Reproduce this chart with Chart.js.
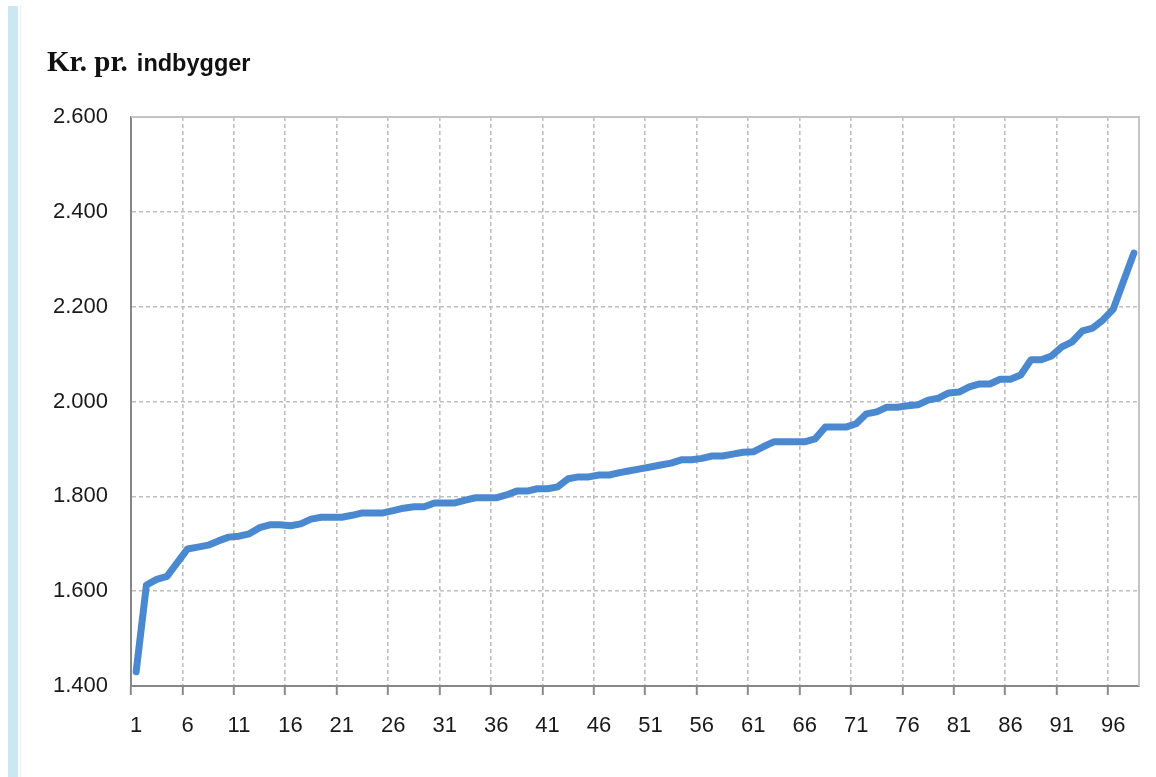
<!DOCTYPE html>
<html>
<head>
<meta charset="utf-8">
<script src="https://cdn.jsdelivr.net/npm/chart.js@4"></script>
<style>
  html, body { margin: 0; padding: 0; background: #fff; }
  #wrap { position: relative; width: 1156px; height: 777px; overflow: hidden; }
  #bar { position: absolute; left: 8px; top: 6px; width: 10px; height: 771px; background: #cbe7f0; }
  #bar2 { position: absolute; left: 20px; top: 6px; width: 1px; height: 771px; background: #e6f3f7; }
  #title { position: absolute; left: 47px; top: 45px; line-height: 29px; white-space: nowrap; color: #111; z-index: 2; }
  #title .a { font: bold 29px "Liberation Serif", "Times New Roman", serif; }
  #title .b { font: bold 23.5px "Liberation Sans", Arial, sans-serif; margin-left: 9px; }
  canvas { position: absolute; left: 0; top: 0; }
</style>
</head>
<body>
<div id="wrap">
  <div id="bar"></div>
  <div id="bar2"></div>
  <div id="title"><span class="a">Kr. pr.</span><span class="b">indbygger</span></div>
  <canvas id="chart" width="1156" height="777"></canvas>
</div>
<script>
// kommuner sorteret efter udgift, 1..98
const labels = [];
for (let i = 1; i <= 98; i++) labels.push(String(i));

const values = [
  1430, 1613, 1625, 1631, 1660, 1689, 1693, 1697, 1706, 1714,
  1716, 1721, 1734, 1740, 1740, 1738, 1742, 1752, 1756, 1756,
  1756, 1760, 1765, 1765, 1765, 1770, 1775, 1778, 1778, 1786,
  1786, 1786, 1792, 1797, 1797, 1797, 1803, 1811, 1811, 1816,
  1816, 1820, 1837, 1841, 1841, 1845, 1845, 1850, 1854, 1858,
  1862, 1866, 1870, 1877, 1877, 1880, 1885, 1885, 1889, 1893,
  1894, 1905, 1915, 1915, 1915, 1915, 1921, 1946, 1946, 1946,
  1953, 1974, 1978, 1988, 1988, 1991, 1993, 2003, 2007, 2018,
  2020, 2031, 2037, 2037, 2047, 2047, 2056, 2088, 2088, 2096,
  2115, 2126, 2149, 2155, 2172, 2195, 2254, 2313
];

const yMin = 1400;
const yMax = 2600;
const yStep = 200;

function fmt(v) {
  return String(v).replace(/\B(?=(\d{3})+(?!\d))/g, '.');
}

// top og hoejre kant af plotomraadet
const frame = {
  id: 'frame',
  beforeDatasetsDraw(chart) {
    const { ctx, chartArea: a } = chart;
    ctx.save();
    ctx.strokeStyle = '#c4c4c4';
    ctx.lineWidth = 2;
    ctx.beginPath();
    ctx.moveTo(a.left, a.top);
    ctx.lineTo(a.right, a.top);
    ctx.lineTo(a.right, a.bottom);
    ctx.stroke();
    ctx.restore();
  }
};

new Chart(document.getElementById('chart'), {
  type: 'line',
  data: {
    labels: labels,
    datasets: [{
      data: values,
      borderColor: '#4a89cf',
      borderWidth: 7,
      pointRadius: 0,
      tension: 0,
      borderJoinStyle: 'round',
      borderCapStyle: 'round',
      fill: false
    }]
  },
  options: {
    responsive: false,
    animation: false,
    layout: { padding: { top: 117, right: 17, left: 0, bottom: 0 } },
    plugins: { legend: { display: false }, tooltip: { enabled: false } },
    scales: {
      x: {
        type: 'category',
        offset: true,
        afterFit(scale) { scale.height = 91; },
        grid: {
          offset: true,
          color: c => (c.index % 5 === 0 ? '#bebebe' : 'rgba(0,0,0,0)'),
          lineWidth: 1.6,
          drawTicks: true,
          tickLength: 9,
          tickColor: c => (c.index % 5 === 0 ? '#8a8a8a' : 'rgba(0,0,0,0)'),
          tickWidth: 2,
          tickBorderDash: []
        },
        border: { color: '#868686', width: 2, dash: [4, 3] },
        ticks: {
          autoSkip: false,
          maxRotation: 0,
          padding: 18,
          color: '#1a1a1a',
          font: { family: 'Liberation Sans, Arial, sans-serif', size: 22 },
          callback: (v, i) => (i % 5 === 0 ? labels[i] : '')
        }
      },
      y: {
        min: yMin,
        max: yMax,
        afterFit(scale) { scale.width = 131; },
        grid: {
          color: '#bebebe',
          lineWidth: 1.6,
          drawTicks: false
        },
        border: { color: '#868686', width: 2, dash: [4, 3] },
        ticks: {
          stepSize: yStep,
          padding: 23,
          color: '#1a1a1a',
          font: { family: 'Liberation Sans, Arial, sans-serif', size: 22 },
          callback: v => fmt(v)
        }
      }
    }
  },
  plugins: [frame]
});
</script>
</body>
</html>
